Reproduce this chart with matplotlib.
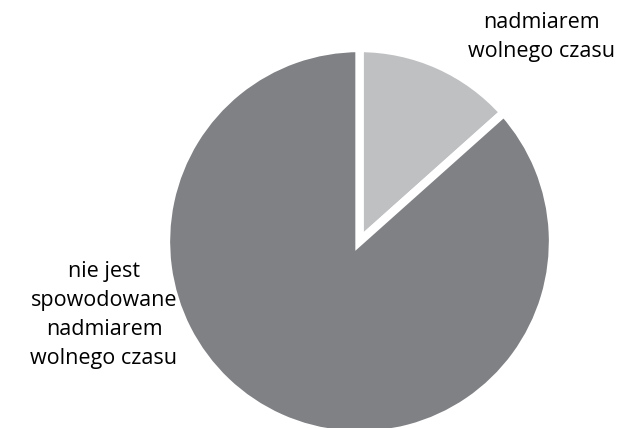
import matplotlib
matplotlib.use("Agg")
import matplotlib.pyplot as plt

labels = ["nadmiarem\nwolnego czasu", "nie jest\nspowodowane\nnadmiarem\nwolnego czasu"]
shares = [13.4, 86.6]
colors = ["#bfc0c2", "#808185"]

W, H = 623, 428
fig = plt.figure(figsize=(W / 100, H / 100), dpi=100)
ax = fig.add_axes([0, 0, 1, 1])

# thick white edges make the gap between the two slices
ax.pie(
    shares,
    colors=colors,
    startangle=90,
    counterclock=False,
    radius=193.5,
    center=(359.5, 186.5),
    wedgeprops=dict(edgecolor="white", linewidth=6),
)
ax.set_xlim(0, W)
ax.set_ylim(0, H)
ax.set_aspect("equal")
ax.axis("off")

font = dict(family=["Open Sans", "DejaVu Sans"], fontsize=15.5, color="#000000",
            ha="center", va="center", linespacing=1.52)
ax.text(541, 391, labels[0], **font)
ax.text(104, 113, labels[1], **font)

fig.savefig("out.png", dpi=100)
